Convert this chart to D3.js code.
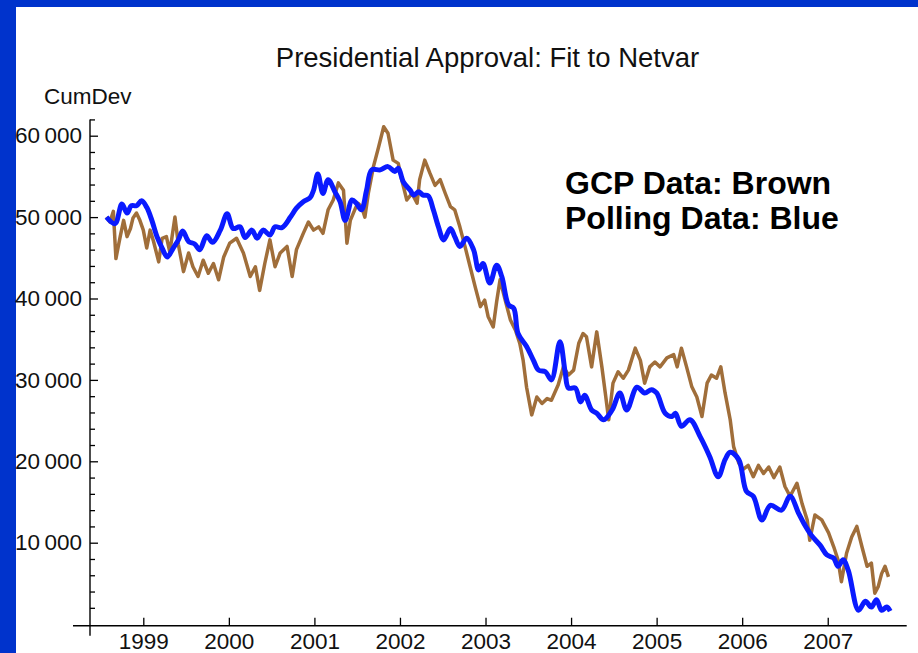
<!DOCTYPE html>
<html>
<head>
<meta charset="utf-8">
<script src="https://cdn.jsdelivr.net/npm/d3@7"></script>
<style>
  html, body { margin: 0; padding: 0; background: #fff; }
  svg { display: block; }
</style>
</head>
<body>
<script>
// ---------- DATA ----------
const titleText = "Presidential Approval: Fit to Netvar";
const yAxisLabel = "CumDev";
const legendLines = ["GCP Data: Brown", "Polling Data: Blue"];

const xTickYears = [1999, 2000, 2001, 2002, 2003, 2004, 2005, 2006, 2007];
const yMajorTicks = [10000, 20000, 30000, 40000, 50000, 60000];
const yMinorTicks = [2000, 4000, 6000, 8000, 12000, 14000, 16000, 18000, 22000, 24000, 26000, 28000,
  32000, 34000, 36000, 38000, 42000, 44000, 46000, 48000, 52000, 54000, 56000, 58000, 62000];

// Polling data (blue)
const pollYears = [1998.57,1998.67,1998.75,1998.81,1998.86,1998.92,1998.98,1999.04,1999.10,1999.16,1999.22,1999.28,
  1999.35,1999.41,1999.46,1999.53,1999.60,1999.66,1999.74,1999.81,1999.90,1999.98,2000.05,2000.13,2000.19,2000.27,
  2000.33,2000.40,2000.48,2000.54,2000.62,2000.72,2000.79,2000.87,2000.95,2000.99,2001.04,2001.10,2001.16,2001.24,
  2001.30,2001.36,2001.44,2001.49,2001.55,2001.61,2001.67,2001.77,2001.86,2001.94,2001.98,2002.04,2002.12,2002.16,
  2002.22,2002.27,2002.33,2002.39,2002.45,2002.51,2002.59,2002.64,2002.70,2002.78,2002.86,2002.92,2002.97,2003.05,
  2003.13,2003.19,2003.27,2003.33,2003.38,2003.48,2003.56,2003.62,2003.70,2003.77,2003.87,2003.93,2003.97,2004.05,
  2004.11,2004.16,2004.24,2004.30,2004.38,2004.48,2004.57,2004.65,2004.77,2004.86,2004.94,2005.00,2005.10,2005.18,
  2005.22,2005.29,2005.39,2005.51,2005.62,2005.72,2005.80,2005.86,2005.96,2006.05,2006.13,2006.23,2006.33,2006.46,
  2006.56,2006.66,2006.72,2006.81,2006.91,2006.99,2007.07,2007.12,2007.18,2007.24,2007.36,2007.44,2007.51,2007.57,
  2007.63,2007.69,2007.73];
const pollValues = [50000,49200,51600,50500,51400,51400,52000,51200,49600,47600,46200,45100,
  46200,47200,48300,47000,46700,46000,47700,46900,48400,50400,48600,48800,47500,48400,
  47400,48400,47800,48800,48700,50000,51100,51900,52400,53300,55300,52900,54600,53100,
  51900,49600,52100,51700,50900,53300,55800,55800,56200,55600,56000,54300,53300,52700,
  53100,52700,52600,50900,48800,47200,48600,47600,46400,47400,46000,43500,44300,41900,
  44100,42700,39200,38800,35700,34100,32400,31200,31000,30000,34700,31000,29000,29000,
  27300,28100,26300,25900,25100,26300,28400,26300,29100,28400,28800,28400,25900,25500,
  25900,24300,25100,23000,20600,18100,20200,21100,20200,16300,15700,12800,14600,14000,
  15700,13600,12400,10900,9700,8500,8100,7100,7900,6600,1700,2800,2100,3000,
  1700,2100,1600];

// GCP data (brown)
const gcpYears = [1998.57,1998.61,1998.65,1998.68,1998.73,1998.77,1998.81,1998.85,1998.88,1998.92,1998.96,1999.00,
  1999.04,1999.08,1999.12,1999.18,1999.22,1999.27,1999.31,1999.37,1999.41,1999.47,1999.53,1999.58,1999.64,1999.70,
  1999.76,1999.82,1999.88,1999.94,2000.01,2000.09,2000.17,2000.25,2000.31,2000.36,2000.42,2000.48,2000.54,2000.60,
  2000.68,2000.74,2000.79,2000.87,2000.93,2000.99,2001.05,2001.10,2001.16,2001.22,2001.28,2001.34,2001.38,2001.42,
  2001.48,2001.51,2001.55,2001.59,2001.63,2001.69,2001.75,2001.81,2001.86,2001.92,2001.98,2002.02,2002.08,2002.14,
  2002.20,2002.23,2002.29,2002.35,2002.41,2002.47,2002.53,2002.59,2002.64,2002.70,2002.76,2002.82,2002.88,2002.94,
  2002.99,2003.03,2003.09,2003.13,2003.17,2003.23,2003.29,2003.35,2003.40,2003.44,2003.48,2003.54,2003.60,2003.66,
  2003.72,2003.77,2003.85,2003.91,2003.97,2004.03,2004.09,2004.14,2004.18,2004.24,2004.30,2004.36,2004.40,2004.44,
  2004.49,2004.55,2004.61,2004.67,2004.75,2004.81,2004.86,2004.92,2004.98,2005.04,2005.12,2005.20,2005.24,2005.29,
  2005.35,2005.41,2005.47,2005.53,2005.59,2005.64,2005.70,2005.75,2005.80,2005.86,2005.90,2005.96,2006.01,2006.07,
  2006.13,2006.19,2006.25,2006.31,2006.37,2006.44,2006.50,2006.56,2006.64,2006.70,2006.76,2006.79,2006.85,2006.93,
  2007.01,2007.07,2007.12,2007.16,2007.22,2007.28,2007.34,2007.40,2007.46,2007.51,2007.55,2007.59,2007.63,2007.67,
  2007.71];
const gcpValues = [50000,49400,50700,44900,47600,49600,47600,48600,49900,50500,49600,48400,
  46200,48400,47000,44500,47400,47600,45700,50000,46600,43300,45600,43900,42700,44700,
  43100,44300,42300,45100,46800,47400,45600,42700,43900,41000,44300,47200,43900,45600,
  46400,42700,46000,48000,49400,48400,48800,48000,50900,52100,54200,53300,46800,49600,
  51100,51700,51300,50000,52900,56200,58600,61100,60300,57000,56600,54600,52100,52900,
  51700,54600,57000,55400,53900,54600,52900,51300,50900,48800,46400,43900,41400,39000,
  39800,37800,36500,39600,42300,39800,37400,36100,34500,32400,29100,25700,27900,27100,
  27700,27500,29400,31600,30600,31200,34500,35700,35300,31600,35900,31600,28400,25100,
  29600,31000,30200,31200,33900,32400,29600,31600,32200,31600,32700,33100,31600,33900,
  31600,29200,27900,25500,29600,30600,30200,31600,28400,25100,21800,19800,19000,19500,
  18100,19500,18500,19300,18000,19300,16900,15700,17300,14800,12800,10300,13400,12800,
  11200,9500,7900,5200,8700,10700,12000,9500,7100,7500,3800,4600,6200,7100,
  5800];

// ---------- LAYOUT ----------
const W = 918, H = 653;
const svg = d3.select("body").append("svg").attr("width", W).attr("height", H);
svg.append("rect").attr("width", W).attr("height", H).attr("fill", "#fff");
// slide frame
svg.append("rect").attr("x", 0).attr("y", 0).attr("width", 16).attr("height", H).attr("fill", "#0033CC");
svg.append("rect").attr("x", 0).attr("y", 0).attr("width", W).attr("height", 7).attr("fill", "#0033CC");

const font = "'Liberation Sans', Arial, Helvetica, sans-serif";
const x = d3.scaleLinear().domain([1998.377, 2007.923]).range([90, 906.7]);
const y = d3.scaleLinear().domain([0, 60000]).range([624.1, 135.7]);
const axisY = y(-200);   // x axis crosses here
const axisX = x(1998.377);

// Title
svg.append("text").attr("x", 487.5).attr("y", 67).attr("text-anchor", "middle")
  .attr("font-family", font).attr("font-size", 27.5).attr("fill", "#111").text(titleText);
// y label
svg.append("text").attr("x", 44).attr("y", 104).attr("font-family", font)
  .attr("font-size", 22.5).attr("fill", "#111").text(yAxisLabel);

// Axes
const fmt = d => d3.format(",")(d).replace(",", "\u2009");
const gy = svg.append("g").attr("transform", `translate(${axisX},0)`)
  .call(d3.axisLeft(y).tickValues(yMajorTicks).tickSizeInner(-8).tickSizeOuter(0).tickPadding(8).tickFormat(fmt));
const gym = svg.append("g").attr("transform", `translate(${axisX},0)`)
  .call(d3.axisLeft(y).tickValues(yMinorTicks).tickSizeInner(-5).tickSizeOuter(0).tickFormat(""));
const gx = svg.append("g").attr("transform", `translate(0,${axisY})`)
  .call(d3.axisBottom(x).tickValues(xTickYears).tickSizeInner(-8).tickSizeOuter(0).tickPadding(7).tickFormat(d3.format("d")));
[gy, gym, gx].forEach(g => {
  g.select(".domain").remove();
  g.selectAll("line").attr("stroke", "#000").attr("stroke-width", 1.3);
  g.selectAll("text").attr("font-family", font).attr("font-size", 22.5).attr("fill", "#111");
});
svg.append("line").attr("x1", axisX).attr("x2", axisX).attr("y1", y(62000)).attr("y2", axisY + 10)
  .attr("stroke", "#000").attr("stroke-width", 1.4);
svg.append("line").attr("x1", axisX - 17).attr("x2", x(2007.923)).attr("y1", axisY).attr("y2", axisY)
  .attr("stroke", "#000").attr("stroke-width", 1.4);

// Lines
const gcp = gcpYears.map((t, i) => [t, gcpValues[i]]);
const poll = pollYears.map((t, i) => [t, pollValues[i]]);
svg.append("path").datum(gcp)
  .attr("d", d3.line().x(d => x(d[0])).y(d => y(d[1])))
  .attr("fill", "none").attr("stroke", "#A06E3A").attr("stroke-width", 3.5).attr("stroke-linejoin", "round");
svg.append("path").datum(poll)
  .attr("d", d3.line().x(d => x(d[0])).y(d => y(d[1])).curve(d3.curveCatmullRom))
  .attr("fill", "none").attr("stroke", "#0A1AFF").attr("stroke-width", 5).attr("stroke-linejoin", "round");

// Legend text
legendLines.forEach((s, i) => {
  svg.append("text").attr("x", 565).attr("y", 194 + i * 35).attr("font-family", font)
    .attr("font-weight", "bold").attr("font-size", 32).attr("fill", "#000").text(s);
});
</script>
</body>
</html>
